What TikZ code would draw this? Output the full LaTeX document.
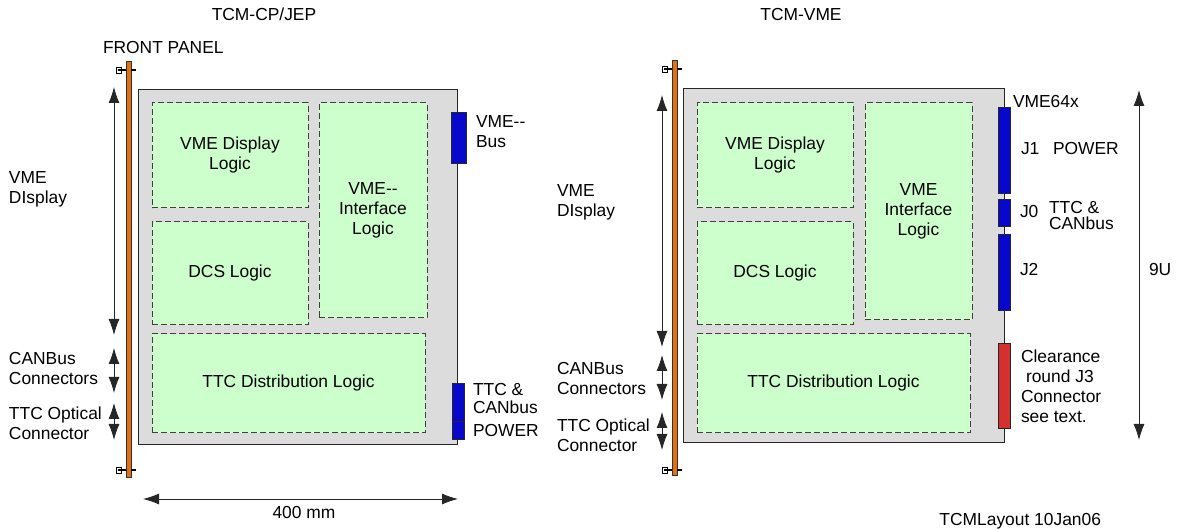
\documentclass[tikz,border=0pt]{standalone}
\usepackage{fontspec}
\setmainfont{Liberation Sans}
\usetikzlibrary{arrows.meta}
\definecolor{boardgrey}{HTML}{DCDCDC}
\definecolor{lgreen}{HTML}{CCFFCC}
\definecolor{dashgrey}{HTML}{404040}
\definecolor{cblue}{HTML}{0808CC}
\definecolor{cred}{HTML}{D43030}
\definecolor{porange}{HTML}{E07010}
\tikzset{
  txt/.style={font=\fontsize{17.4}{20}\selectfont, inner sep=0pt, outer sep=0pt},
  lbl/.style={txt, align=left, anchor=north west},
  bw/.style={txt, anchor=base west},
  board/.style={draw=black!85, fill=boardgrey, line width=1pt, anchor=north west, inner sep=0pt, outer sep=0pt},
  gbox/.style={draw=dashgrey, dash pattern=on 6pt off 3pt, fill=lgreen, line width=1pt, anchor=north west, txt, align=center},
  conn/.style={draw=black!85, fill=cblue, line width=0.8pt, anchor=north west, inner sep=0pt, outer sep=0pt},
  panel/.style={draw=black!80, fill=porange, line width=0.6pt, anchor=north west, inner sep=0pt, outer sep=0pt},
  dimline/.style={<->, >={Latex[length=16pt,width=11pt]}, line width=0.9pt, draw=black!85},
}
\begin{document}
\begin{tikzpicture}[x=1pt,y=-1pt]
\useasboundingbox (0,0) rectangle (1179,529);

% ---------- Left board ----------
\node[txt, anchor=base] (t1) at (264,21) {TCM-CP/JEP};
\node[bw] (fp) at (103,54) {FRONT PANEL};
\node[board, minimum width=319pt, minimum height=355pt] (b1) at (138,90) {};
\node[panel, minimum width=5pt, minimum height=416pt] (p1) at (126,61) {};
% handles
\draw[black, line width=0.7pt] (116,67) rectangle (121,73);
\draw[black, line width=1.2pt] (118,70) -- (126,70);
\draw[black, line width=1.6pt] (131,70) -- (136,70);
\draw[black, line width=0.7pt] (116,467) rectangle (121,473);
\draw[black, line width=1.2pt] (118,470) -- (126,470);
\draw[black, line width=1.6pt] (131,470) -- (136,470);

\node[gbox, minimum width=156pt, minimum height=105pt] (vd1) at (152,103) {VME Display\\Logic};
\node[gbox, minimum width=108pt, minimum height=215pt] (vi1) at (319,103) {VME-{}-\\Interface\\Logic};
\node[gbox, minimum width=156pt, minimum height=103pt] (dcs1) at (152,222) {DCS Logic};
\node[gbox, minimum width=273pt, minimum height=99pt] (ttc1) at (152,334) {TTC Distribution Logic};

\node[conn, minimum width=15pt, minimum height=51pt] (bus1) at (451,112) {};
\node[conn, minimum width=12pt, minimum height=38pt] (tc1) at (452,383) {};
\node[conn, minimum width=12pt, minimum height=18pt] (pw1) at (452,421) {};

\node[lbl] (lbus1) at (476,116) {VME-{}-\\Bus};
\node[lbl, font=\fontsize{17.4}{18}\selectfont] (ltc1) at (473,383) {TTC \&\\CANbus};
\node[bw] (lpw1) at (473,437) {POWER};

\node[lbl] (ld1) at (9,172) {VME\\DIsplay};
\node[lbl] (lc1) at (9,352) {CANBus\\Connectors};
\node[lbl] (lo1) at (9,407) {TTC Optical\\Connector};

\coordinate (a1t) at (114,87);  \coordinate (a1b) at (114,335);
\coordinate (c1t) at (114,348); \coordinate (c1b) at (114,393);
\coordinate (o1t) at (114,403); \coordinate (o1b) at (114,440);
\draw[dimline] (a1t) -- (a1b);
\draw[dimline] (c1t) -- (c1b);
\draw[dimline] (o1t) -- (o1b);

\coordinate (wl) at (143,499); \coordinate (wr) at (458,499);
\draw[dimline] (wl) -- (wr);
\node[txt, anchor=base] (l400) at (304,518) {400 mm};

% ---------- Right board ----------
\node[txt, anchor=base] (t2) at (801,21) {TCM-VME};
\node[board, minimum width=321pt, minimum height=354pt] (b2) at (683,89) {};
\node[panel, minimum width=5pt, minimum height=415pt] (p2) at (672,60) {};
\draw[black, line width=0.7pt] (662,66) rectangle (667,72);
\draw[black, line width=1.2pt] (664,69) -- (672,69);
\draw[black, line width=1.6pt] (677,69) -- (682,69);
\draw[black, line width=0.7pt] (662,467) rectangle (667,473);
\draw[black, line width=1.2pt] (664,470) -- (672,470);
\draw[black, line width=1.6pt] (677,470) -- (682,470);

\node[gbox, minimum width=156pt, minimum height=105pt] (vd2) at (697,103) {VME Display\\Logic};
\node[gbox, minimum width=107pt, minimum height=217pt] (vi2) at (865,103) {VME\\Interface\\Logic};
\node[gbox, minimum width=156pt, minimum height=103pt] (dcs2) at (697,222) {DCS Logic};
\node[gbox, minimum width=273pt, minimum height=99pt] (ttc2) at (697,334) {TTC Distribution Logic};

\node[conn, minimum width=12pt, minimum height=86pt] (j1) at (998,107) {};
\node[conn, minimum width=12pt, minimum height=27pt] (j0) at (998,199) {};
\node[conn, minimum width=12pt, minimum height=76pt] (j2) at (998,234) {};
\node[conn, fill=cred, minimum width=12pt, minimum height=85pt] (j3) at (998,343) {};

\node[bw] (lv64) at (1013,108) {VME64x};
\node[bw] (lj1) at (1021,155) {J1};
\node[bw] (lpw2) at (1053,155) {POWER};
\node[bw] (lj0) at (1020,218) {J0};
\node[lbl, font=\fontsize{17.4}{16}\selectfont] (ltc2) at (1049,201) {TTC \&\\CANbus};
\node[bw] (lj2) at (1020,276) {J2};
\node[lbl] (lj3) at (1021,350) {Clearance\\\hspace*{5pt}round J3\\Connector\\see text.};

\node[lbl] (ld2) at (557,185) {VME\\DIsplay};
\node[lbl] (lc2) at (557,362) {CANBus\\Connectors};
\node[lbl] (lo2) at (557,419) {TTC Optical\\Connector};

\coordinate (a2t) at (662,95);  \coordinate (a2b) at (662,347);
\coordinate (c2t) at (662,355); \coordinate (c2b) at (662,400);
\coordinate (o2t) at (662,412); \coordinate (o2b) at (662,450);
\draw[dimline] (a2t) -- (a2b);
\draw[dimline] (c2t) -- (c2b);
\draw[dimline] (o2t) -- (o2b);

\coordinate (ht) at (1139,90); \coordinate (hb) at (1139,440);
\draw[dimline] (ht) -- (hb);
\node[bw] (l9u) at (1149,276) {9U};

\node[txt, anchor=base east] (foot) at (1101,525) {TCMLayout 10Jan06};
\end{tikzpicture}
\end{document}
